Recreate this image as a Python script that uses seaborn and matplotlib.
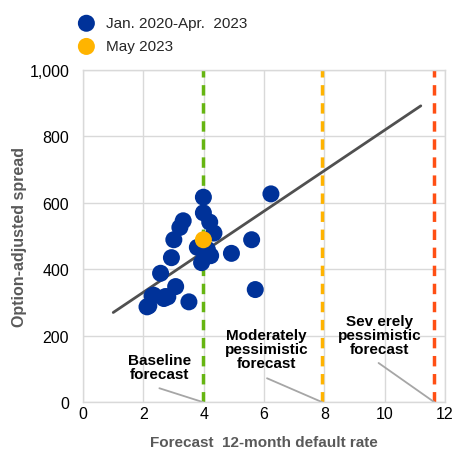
import numpy as np
import pandas as pd
import matplotlib
matplotlib.use('Agg')
import matplotlib.pyplot as plt
import seaborn as sns

# Scatter data (default rate %, spread bp)
hist_rate = [6.23, 3.99, 3.99, 4.20, 4.34, 3.32, 3.21, 3.01, 5.59, 3.79, 4.12, 4.23,
             4.92, 2.93, 3.93, 2.57, 3.07, 5.71, 2.73, 2.34, 2.18, 2.12, 3.51, 2.81,
             2.29, 2.68]
hist_spread = [627, 617, 570, 542, 509, 546, 526, 489, 489, 466, 460, 441,
               448, 435, 420, 388, 348, 339, 318, 322, 290, 287, 302, 317,
               320, 312]
may_rate = [3.99]
may_spread = [489]

# Trend line
trend_x = [1.0, 11.2]
trend_y = [270, 892]

# Forecast scenarios
fc_x = [3.98, 7.93, 11.65]
fc_colors = ['#66B512', '#FFB300', '#FF4F14']
fc_labels = ['Baseline\nforecast', 'Moderately\npessimistic\nforecast', 'Sev erely\npessimistic\nforecast']
fc_text_x = [2.53, 6.08, 9.84]
fc_text_y = [107, 160, 203]
fc_line_start = [(2.53, 42), (6.1, 72), (9.8, 118)]

sns.set_theme(style='white')
plt.rcParams['font.family'] = ['Liberation Sans', 'DejaVu Sans']

fig = plt.figure(figsize=(4.54, 4.52), dpi=100)
ax = fig.add_axes([0.183, 0.108, 0.797, 0.735])

df_hist = pd.DataFrame({'rate': hist_rate, 'spread': hist_spread})
df_may = pd.DataFrame({'rate': may_rate, 'spread': may_spread})

ax.plot(trend_x, trend_y, color='#505050', lw=2, zorder=2)

for x, c in zip(fc_x, fc_colors):
    ax.axvline(x, color=c, lw=2.5, ls=(0, (3, 2.2)), zorder=1)

sns.scatterplot(data=df_hist, x='rate', y='spread', ax=ax, color='#003299', s=150,
                edgecolor='none', label='Jan. 2020-Apr.  2023', zorder=3)
sns.scatterplot(data=df_may, x='rate', y='spread', ax=ax, color='#FFB400', s=150,
                edgecolor='none', label='May 2023', zorder=4)

for (sx, sy), x in zip(fc_line_start, fc_x):
    ax.plot([sx, x], [sy, 0], color='#A6A6A6', lw=1.3, zorder=2)
for tx, ty, lab in zip(fc_text_x, fc_text_y, fc_labels):
    ax.text(tx, ty, lab, ha='center', va='center', fontsize=11, fontweight='bold',
            color='#000000', linespacing=1.0)

ax.set_xlim(0, 12)
ax.set_ylim(0, 1000)
ax.set_xticks(range(0, 13, 2))
ax.set_yticks(range(0, 1001, 200))
ax.set_yticklabels(['0', '200', '400', '600', '800', '1,000'])
ax.tick_params(labelsize=11.5, colors='#000000', length=0)
ax.tick_params(axis='x', pad=3)
ax.tick_params(axis='y', pad=10)
ax.grid(True, color='#D9D9D9', lw=1)
for sp in ax.spines.values():
    sp.set_color('#D9D9D9')
    sp.set_linewidth(1)

ax.set_xlabel('Forecast  12-month default rate', fontsize=11, fontweight='bold',
              color='#595959', labelpad=10)
ax.set_ylabel('Option-adjusted spread', fontsize=11.5, fontweight='bold',
              color='#595959', labelpad=2)

leg = ax.legend(loc='upper left', bbox_to_anchor=(-0.05, 1.18), frameon=False,
                fontsize=11, handletextpad=0.3, labelspacing=0.6, borderaxespad=0)

fig.savefig('out.png', dpi=100)
